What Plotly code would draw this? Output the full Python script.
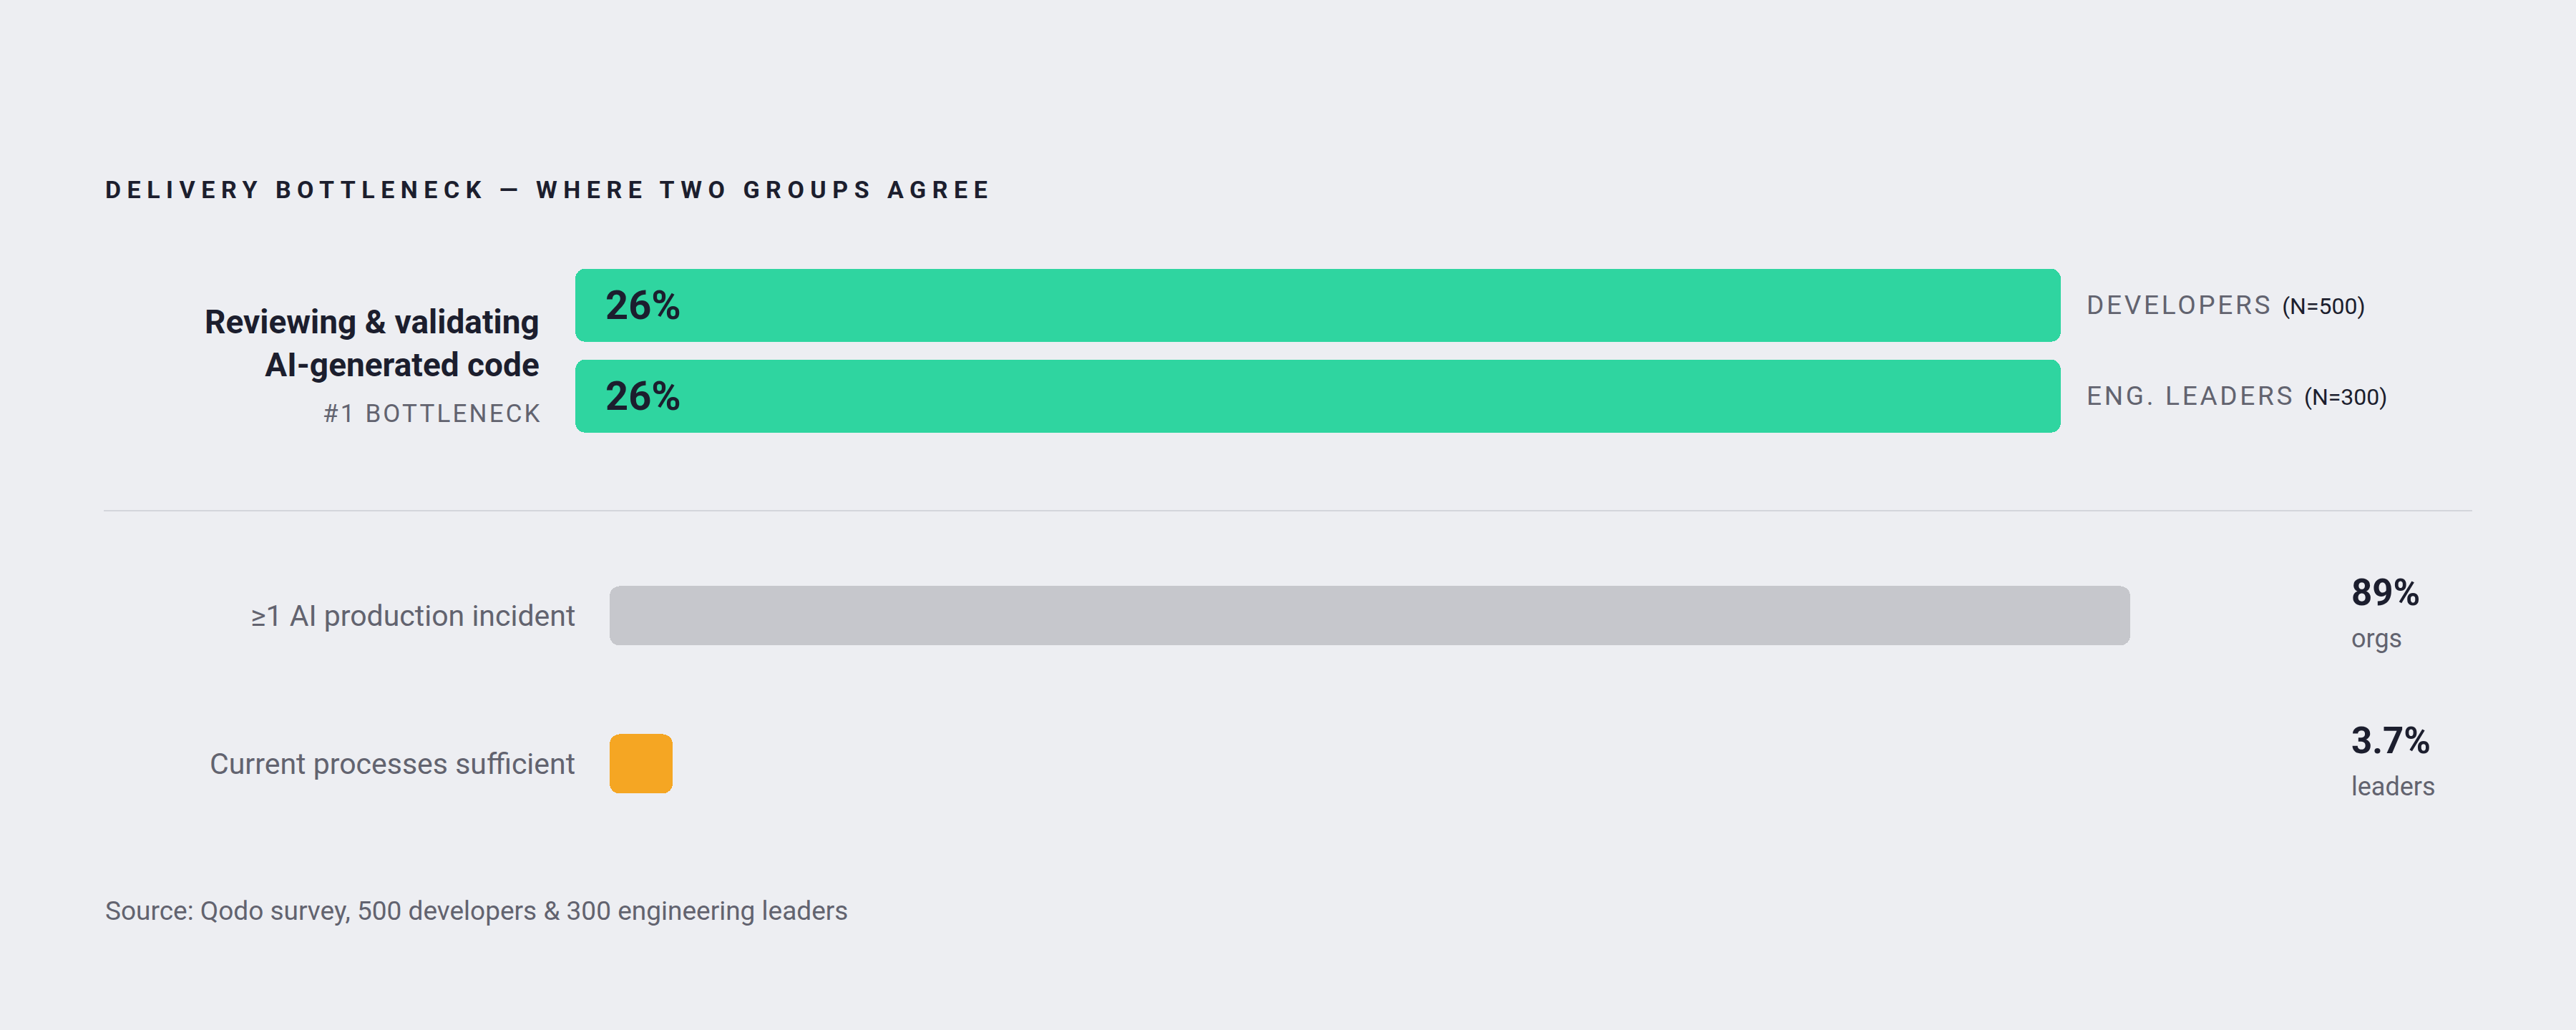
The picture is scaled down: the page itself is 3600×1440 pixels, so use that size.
import json
import plotly.graph_objects as go

# Data
title = "DELIVERY BOTTLENECK — WHERE TWO GROUPS AGREE"
bottleneck_label = "Reviewing & validating<br>AI-generated code"
bottleneck_tag = "#1 BOTTLENECK"
groups = ["DEVELOPERS", "ENG. LEADERS"]
group_n = [500, 300]
group_values = [26, 26]

metric_labels = ["≥1 AI production incident", "Current processes sufficient"]
metric_values = [89, 3.7]
metric_units = ["orgs", "leaders"]

source = "Source: Qodo survey, 500 developers & 300 engineering leaders"

# Styles
BG = "#edeef2"
DARK = "#1c1e2e"
GREY_TXT = "#62636f"
GREEN = "#2fd5a0"
metric_colors = ["#c6c7cc", "#f5a623"]
FONT = "Roboto"

fig = go.Figure()


def rounded_bars(values, cats, color, width, xa, ya):
    # plotly only rounds the far end of a bar, so each bar is drawn as two
    # overlapping parts: one growing right, one growing left to zero
    for lo, hi in ((0.3, 0.7), (0.7, -0.7)):
        fig.add_trace(go.Bar(
            x=[v * hi for v in values], base=[v * lo for v in values], y=cats,
            orientation="h", width=width,
            marker=dict(color=color, cornerradius=14, line=dict(width=0)),
            xaxis=xa, yaxis=ya, hoverinfo="skip", showlegend=False,
        ))


# Top section: two groups agreeing on the bottleneck
rounded_bars(group_values, groups, GREEN, 0.81, "x", "y")
# Bottom section: incidents vs. sufficiency
rounded_bars(metric_values, metric_labels, metric_colors, 0.405, "x2", "y2")

ann = []
ann.append(dict(text=f"<b>{title}</b>", xref="paper", yref="paper", x=145 / 3600, y=0.8163,
                xanchor="left", yanchor="middle", align="left", showarrow=False,
                font=dict(family=FONT, size=34, color=DARK)))
ann.append(dict(text=f"<b>{bottleneck_label}</b>", xref="paper", yref="paper", x=756 / 3600, y=0.6667,
                xanchor="right", yanchor="middle", align="right", showarrow=False,
                font=dict(family=FONT, size=46, color=DARK)))
ann.append(dict(text=bottleneck_tag, xref="paper", yref="paper", x=760 / 3600, y=0.5986,
                xanchor="right", yanchor="middle", align="right", showarrow=False,
                font=dict(family=FONT, size=35, color=GREY_TXT)))

for g, n, v in zip(groups, group_n, group_values):
    ann.append(dict(text=f"<b>{v}%</b>", xref="x", yref="y", x=0, y=g, xshift=40,
                    xanchor="left", yanchor="middle", align="left", showarrow=False,
                    font=dict(family=FONT, size=56, color=DARK)))
    ann.append(dict(text=f"{g} <span style='font-size:32px;color:{DARK}'>(N={n})</span>",
                    xref="x domain", yref="y", x=1, y=g, xshift=34,
                    xanchor="left", yanchor="middle", align="left", showarrow=False,
                    font=dict(family=FONT, size=37, color=GREY_TXT)))

for lab, v, u in zip(metric_labels, metric_values, metric_units):
    ann.append(dict(text=lab, xref="x2 domain", yref="y2", x=0, y=lab, xshift=-46,
                    xanchor="right", yanchor="middle", align="right", showarrow=False,
                    font=dict(family=FONT, size=41, color=GREY_TXT)))
    ann.append(dict(text=f"<b>{v:g}%</b>", xref="x2 domain", yref="y2", x=1, y=lab, xshift=44,
                    yshift=32, xanchor="left", yanchor="middle", align="left", showarrow=False,
                    font=dict(family=FONT, size=51, color=DARK)))
    ann.append(dict(text=u, xref="x2 domain", yref="y2", x=1, y=lab, xshift=44,
                    yshift=-32, xanchor="left", yanchor="middle", align="left", showarrow=False,
                    font=dict(family=FONT, size=36, color=GREY_TXT)))

ann.append(dict(text=source, xref="paper", yref="paper", x=145 / 3600, y=0.1153,
                xanchor="left", yanchor="middle", align="left", showarrow=False,
                font=dict(family=FONT, size=37, color=GREY_TXT)))

axis_off = dict(showgrid=False, zeroline=False, showticklabels=False, ticks="", showline=False, fixedrange=True)

fig.update_layout(
    width=3600, height=1440,
    margin=dict(l=0, r=0, t=0, b=0),
    paper_bgcolor=BG, plot_bgcolor="rgba(0,0,0,0)",
    barmode="overlay", bargap=0,
    xaxis=dict(domain=[804 / 3600, 2880 / 3600], range=[0, 26], **axis_off),
    yaxis=dict(domain=[0.5717, 0.7474], categoryorder="array", categoryarray=groups,
               range=[1.5, -0.5], **axis_off),
    xaxis2=dict(domain=[852 / 3600, 3240 / 3600], range=[0, 100], anchor="y2", **axis_off),
    yaxis2=dict(domain=[0.1865, 0.474], categoryorder="array", categoryarray=metric_labels,
                range=[1.5, -0.5], anchor="x2", **axis_off),
    shapes=[dict(type="line", xref="paper", yref="paper", x0=145 / 3600, x1=3455 / 3600,
                 y0=0.5042, y1=0.5042, line=dict(color="#d3d5db", width=2))],
    annotations=ann,
)

# letter-spacing for the tracked uppercase labels (plotly has no option for it)
tracked = {title: "0.25em", bottleneck_tag: "0.09em"}
for g in groups:
    tracked[g] = "0.1em"

post = """
document.body.style.margin = '0';
document.body.style.background = '%s';
var gd = document.getElementById('{plot_id}');
var tracked = %s;
gd.querySelectorAll('.annotation-text').forEach(function(t) {
  var txt = t.textContent;
  Object.keys(tracked).forEach(function(k) {
    if (txt.indexOf(k) === 0) {
      t.style.letterSpacing = tracked[k];
      t.querySelectorAll('tspan').forEach(function(s) {
        if ((s.getAttribute('style') || '').indexOf('font-size') >= 0) s.style.letterSpacing = '0';
      });
    }
  });
});
""" % (BG, json.dumps(tracked))

fig.write_html("out.html", post_script=post, config={"displayModeBar": False})
